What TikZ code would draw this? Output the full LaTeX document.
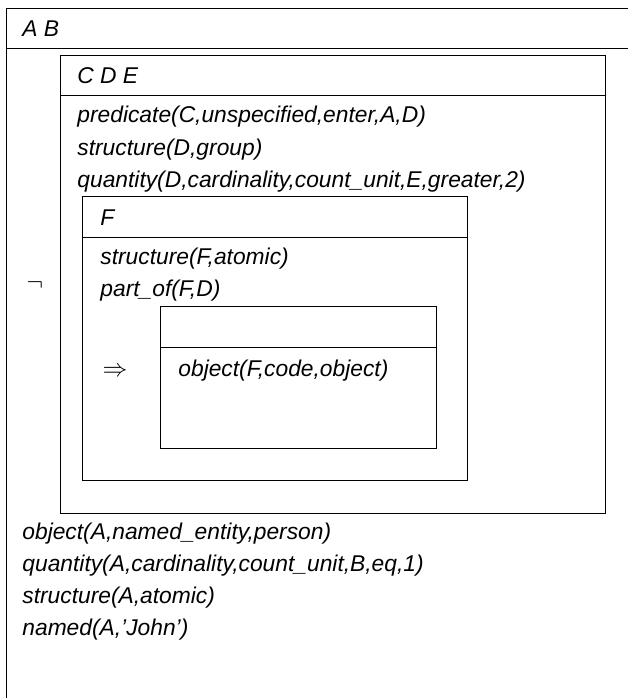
\documentclass[tikz,border=0pt]{standalone}
\usepackage{fontspec}
\setmainfont{Liberation Sans}
\begin{document}
\begin{tikzpicture}[x=1pt,y=-1pt,line width=0.8pt]
  \tikzset{cond/.style={anchor=base west,inner sep=0pt,font=\fontsize{22.8}{27}\selectfont\itshape},
           sym/.style={inner sep=0pt,font=\fontsize{28}{32}\selectfont}}
  \useasboundingbox (0,0) rectangle (628,698);
  \clip (0,0) rectangle (628,698);
  % outer box A B
  \draw (6,8) rectangle (650,720);
  \draw (6,48) -- (650,48);
  \node[cond] (refAB) at (22,37) {A B};
  % box C D E
  \draw (60,55) rectangle (605,513);
  \draw (60,95) -- (605,95);
  \node[cond] (refCDE) at (77,84) {C D E};
  \node[cond] (pred) at (77,123) {predicate(C,unspecified,enter,A,D)};
  \node[cond] (strD) at (77,155) {structure(D,group)};
  \node[cond] (qtyD) at (77,187) {quantity(D,cardinality,count\_unit,E,greater,2)};
  % box F
  \draw (82,196) rectangle (467,480);
  \draw (82,237) -- (467,237);
  \node[cond] (refF) at (100,225) {F};
  \node[cond] (strF) at (100,264) {structure(F,atomic)};
  \node[cond] (partF) at (100,296) {part\_of(F,D)};
  % consequent box
  \draw (160,306) rectangle (436,448);
  \draw (160,347) -- (436,347);
  \node[cond] (objF) at (178,376) {object(F,code,object)};
  \node[sym] (impl) at (115,372) {$\Rightarrow$};
  \node[sym] (negD) at (35,285) {$\neg$};
  % conditions of A B
  \node[cond] (objA) at (22,539) {object(A,named\_entity,person)};
  \node[cond] (qtyA) at (22,571) {quantity(A,cardinality,count\_unit,B,eq,1)};
  \node[cond] (strA) at (22,603) {structure(A,atomic)};
  \node[cond] (namA) at (22,635) {named(A,'John')};
\end{tikzpicture}
\end{document}
